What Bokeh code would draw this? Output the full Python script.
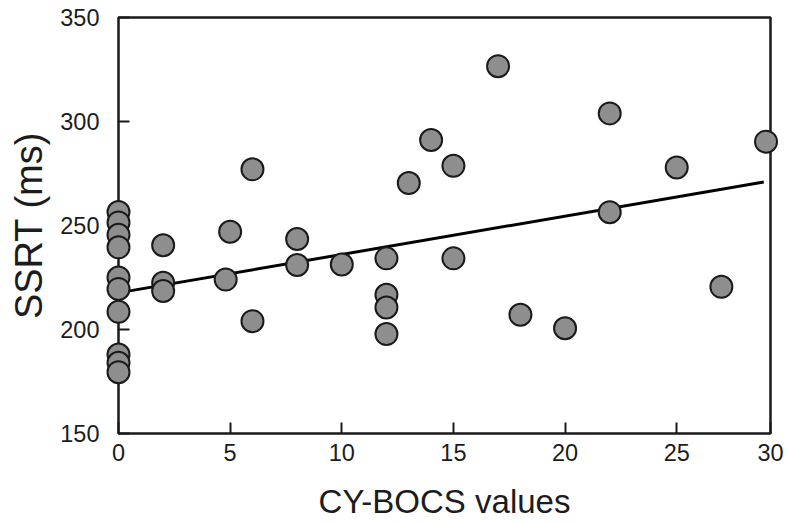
from bokeh.plotting import figure
from bokeh.models import Range1d, FixedTicker, ColumnDataSource
from bokeh.embed import file_html
from bokeh.resources import INLINE

# CY-BOCS score vs stop-signal reaction time
cybocs = [0, 0, 0, 0, 0, 0, 0, 0, 0, 0,
          2, 2, 2, 4.8, 5, 6, 6, 8, 8, 10,
          12, 12, 12, 12, 13, 14, 15, 15, 17, 18,
          20, 22, 22, 25, 27, 29]
ssrt = [256.5, 251.5, 245.5, 239.5, 225, 219.5, 208.5, 188, 184, 179.5,
        240.5, 222.5, 218.5, 224, 247, 277, 204, 243.5, 231, 231.3,
        234.2, 216.7, 210.6, 197.8, 270.4, 291.1, 278.7, 234.2, 326.6, 207.1,
        200.6, 303.9, 256.4, 277.9, 220.5, 290.3]

# regression line end points
fit_x = [0.3, 28.9]
fit_y = [218.2, 270.9]

x_ticks = [0, 5, 10, 15, 20, 25, 29.2]
x_tick_labels = ["0", "5", "10", "15", "20", "25", "30"]
y_ticks = [150, 200, 250, 300, 350]

FONT = "Liberation Sans"
TXT = "#1c1c1c"

p = figure(width=788, height=523, output_backend="svg", toolbar_location=None,
           x_range=Range1d(0, 29.2), y_range=Range1d(150, 350),
           min_border_left=118, min_border_right=18, min_border_top=17,
           min_border_bottom=90)
p.background_fill_color = "white"
p.border_fill_color = "white"
p.grid.visible = False
p.outline_line_color = "#1a1a1a"
p.outline_line_width = 2.5

p.line(fit_x, fit_y, line_color="black", line_width=3)
src = ColumnDataSource(dict(x=cybocs, y=ssrt))
# markers sit on the axis at x = 0, so keep them out of the frame clip
p.scatter("x", "y", source=src, size=22, fill_color="#8e8e8e",
          line_color="#1a1a1a", line_width=2, level="overlay")

xa = p.xaxis[0]
xa.ticker = FixedTicker(ticks=x_ticks)
xa.major_label_overrides = dict(zip(x_ticks, x_tick_labels))
xa.axis_label = "CY-BOCS values"

ya = p.yaxis[0]
ya.ticker = FixedTicker(ticks=y_ticks)
ya.axis_label = "SSRT (ms)"

for ax in (xa, ya):
    ax.axis_line_color = None
    ax.major_tick_in = 11
    ax.major_tick_out = 0
    ax.major_tick_line_color = "#1a1a1a"
    ax.major_tick_line_width = 2
    ax.minor_tick_line_color = None
    ax.major_label_text_font = FONT
    ax.major_label_text_font_size = "23.5px"
    ax.major_label_text_color = TXT
    ax.axis_label_text_font = FONT
    ax.axis_label_text_font_style = "normal"
    ax.axis_label_text_color = TXT

xa.axis_label_text_font_size = "33px"
ya.axis_label_text_font_size = "38px"
xa.major_label_standoff = 10
xa.axis_label_standoff = 19
ya.major_label_standoff = 19
ya.axis_label_standoff = 7

open("out.html", "w").write(file_html(p, INLINE))
